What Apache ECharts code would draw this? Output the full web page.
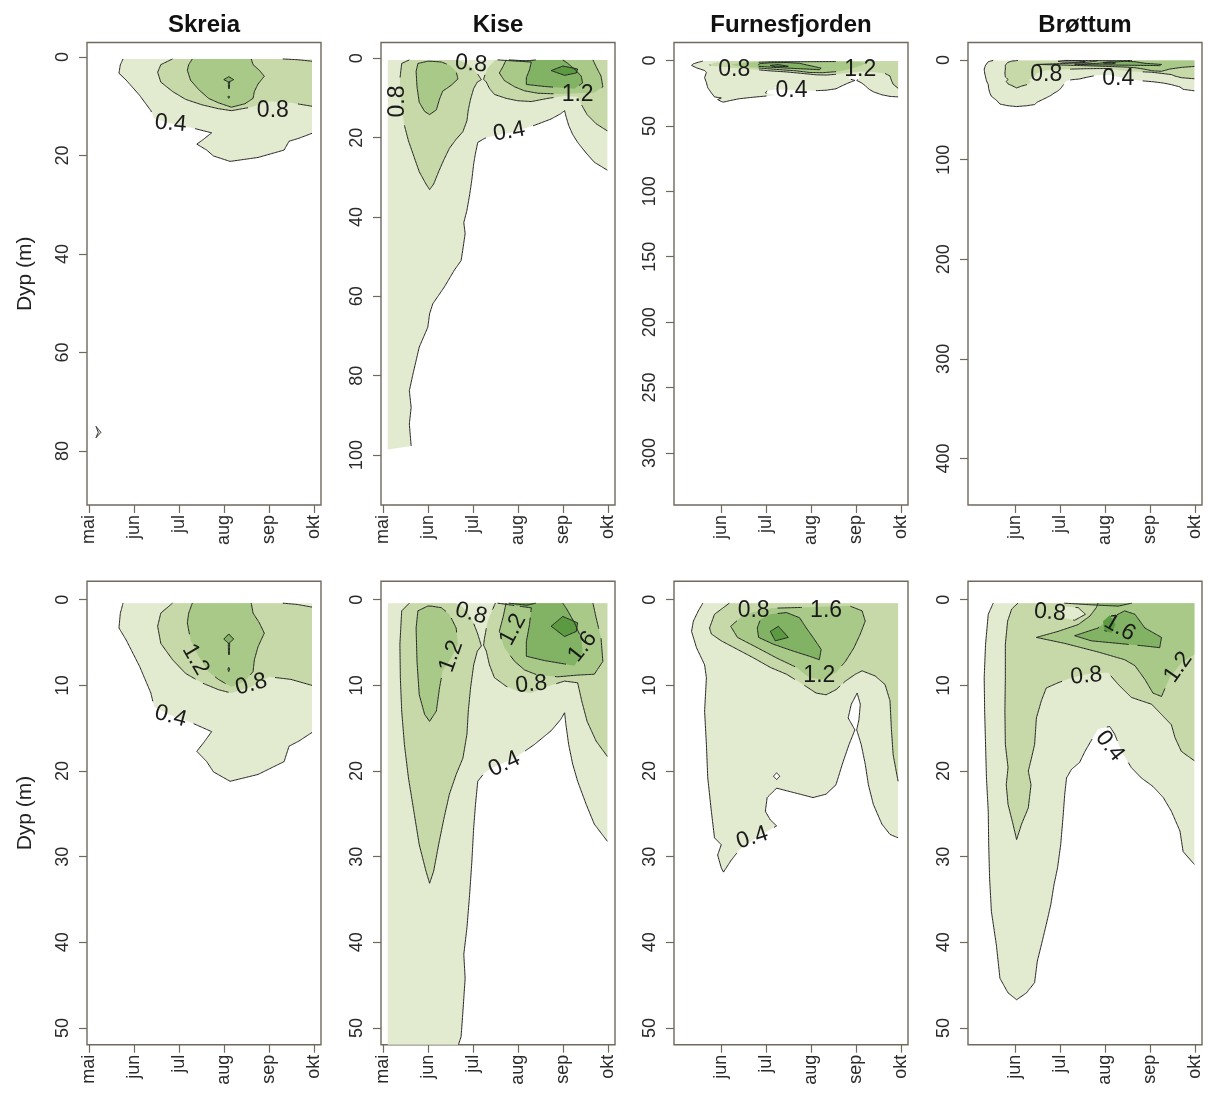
<!DOCTYPE html>
<html><head><meta charset="utf-8">
<script src="https://cdn.jsdelivr.net/npm/echarts@6/dist/echarts.min.js"></script>
<style>html,body{margin:0;padding:0;background:#fff}#c{width:1208px;height:1095px}</style>
</head><body><div id="c"></div>
<script>
// ---------- data ----------
const MONTHS = ['mai','jun','jul','aug','sep','okt'];          // month numbers 5..10
const MONTH_TICKS_FULL = [5,6,7,8,9,10];
const MONTH_TICKS_NOMAI = [6,7,8,9,10];
const LAKES = ['Skreia','Kise','Furnesfjorden','Brøttum'];
const LEVELS = [0, 0.4, 0.8, 1.2, 1.6, 2.0];
const TOP_DEPTH_TICKS = [[0,20,40,60,80],[0,20,40,60,80,100],[0,50,100,150,200,250,300],[0,100,200,300,400]];
const BOTTOM_DEPTH_TICKS = [0,10,20,30,40,50];

// contour regions: [level, [[month, depth(, 1 = point on data edge)], ...]]
const SKREIA = [
  [0.4, [[5.76,0.4,1],[5.70,1.6],[5.67,3.3],[5.83,4.7],[6.13,7.8],[6.38,10.9],[6.45,12.5],[6.78,13.4],[7.30,14.4],[7.73,15.4],[7.55,16.7],[7.40,17.7],[7.62,18.9],[7.77,20.1],[8.14,21.2],[8.76,20.4],[9.34,18.9],[9.45,17.1],[9.67,16.5],[9.96,15.5,1],[9.96,0.4,1]]],
  [0.8, [[6.86,0.4,1],[6.60,1.56],[6.53,3.1],[6.60,5.1],[6.86,7.0],[7.15,8.6],[7.51,9.7],[7.88,10.5],[8.17,10.9],[8.60,10.2],[9.01,9.0],[9.49,9.3],[9.96,10.0,1],[9.96,0.86,1],[9.63,0.55],[9.31,0.4,1]]],
  [1.2, [[7.30,0.4,1],[7.22,1.56],[7.19,2.7],[7.26,4.7],[7.44,6.6],[7.66,8.4],[7.88,9.3],[8.17,10.2],[8.47,9.5],[8.65,8.4],[8.68,7.0],[8.76,5.5],[8.90,3.9],[8.79,2.7],[8.65,1.56],[8.61,0.4,1]]],
  [1.6, [[8.11,4.0],[8.22,4.6],[8.11,5.1],[8.00,4.6]]],
  [1.6, [[8.10,5.1],[8.13,5.1],[8.125,6.4],[8.105,6.4]]],
  [1.6, [[8.11,7.9],[8.13,8.1],[8.11,8.4],[8.09,8.1]]],
  [0.4, [[5.16,75.0],[5.27,76.2],[5.16,77.3],[5.21,76.2]]]
];
const KISE = [
  [0.4, [[5.11,0.4,1],[9.99,0.4,1],[9.99,28.2,1],[9.70,26.2],[9.52,23.9],[9.33,21.2],[9.22,19.2],[9.13,16.9],[9.07,14.6],[9.04,13.2],[8.95,14.0],[8.74,15.3],[8.37,16.9],[7.93,18.5],[7.44,19.6],[7.26,20.2],[7.11,21.2],[7.06,23.9],[7.02,26.6],[6.98,30.5],[6.93,34.4],[6.87,38.3],[6.80,41.4],[6.83,44.2],[6.78,48.1],[6.74,51.0],[6.59,53.4],[6.37,57.6],[6.11,61.9],[6.04,64.4],[6.00,67.8],[5.81,72.8],[5.67,79.6],[5.59,83.8],[5.63,88.0],[5.59,92.2],[5.63,97.7,1],[5.11,98.6,1]]],
  [0.8, [[6.63,0.4,1],[6.74,0.7],[6.89,1.5],[7.00,2.5],[7.11,4.0],[7.19,5.4],[7.10,6.0],[7.02,7.6],[6.95,10.3],[6.90,13.0],[6.87,15.7],[6.78,18.5],[6.63,20.4],[6.48,22.7],[6.36,25.5],[6.24,28.6],[6.13,31.7],[6.04,33.1],[5.96,31.7],[5.81,28.6],[5.69,24.7],[5.57,20.8],[5.48,16.9],[5.42,13.0],[5.39,9.1],[5.38,5.2],[5.42,1.3],[5.59,0.4,1]]],
  [0.8, [[7.50,0.4,1],[7.33,2.5],[7.26,4.5],[7.24,5.3],[7.30,6.0],[7.37,7.6],[7.48,9.1],[7.74,10.1],[8.00,10.7],[8.30,10.9],[8.67,10.1],[9.04,9.5],[9.33,9.7],[9.42,11.8],[9.54,14.2],[9.74,16.5],[9.99,18.3,1],[9.99,0.4,1]]],
  [1.2, [[6.00,0.74],[5.78,1.3],[5.74,3.3],[5.76,7.2],[5.81,11.1],[5.93,13.4],[6.04,14.2],[6.19,13.0],[6.26,10.3],[6.33,8.3],[6.52,6.8],[6.67,5.2],[6.63,3.3],[6.48,1.7],[6.30,0.93],[6.07,0.74]]],
  [1.2, [[7.74,0.4,1],[7.67,2.1],[7.59,3.7],[7.70,5.6],[7.93,7.2],[8.15,8.2],[8.44,8.8],[8.89,9.0],[9.33,8.8],[9.70,8.7],[9.89,7.2],[9.85,4.5],[9.74,2.1],[9.67,0.4,1]]],
  [1.6, [[7.55,0.4,1],[7.95,0.7],[8.30,0.95],[8.26,2.9],[8.19,4.9],[8.19,6.6],[8.59,7.1],[9.04,7.5],[9.26,7.7],[9.44,6.2],[9.41,4.5],[9.26,2.7],[9.10,1.2],[9.00,0.4,1]]],
  [2.0, [[8.74,3.1],[9.00,1.95],[9.33,2.7],[9.30,3.7],[9.04,4.3]]],
  [2.0, [[7.80,0.4,1],[8.40,0.4,1],[8.20,0.65]]]
];
const FURNES = [
  [0.4, [[5.60,0.4,1],[5.50,1.3],[5.39,2.5],[5.35,3.7],[5.46,5.6],[5.64,7.6],[5.68,9.1],[5.64,13.0],[5.68,16.9],[5.71,20.8],[5.79,24.7],[5.86,27.8],[6.01,28.6],[5.93,29.8],[6.01,31.3],[6.06,31.8],[6.22,30.5],[6.41,29.2],[6.73,28.0],[7.24,26.4],[7.10,25.7],[6.99,24.7],[7.03,23.1],[7.24,22.0],[7.61,22.5],[8.05,23.1],[8.34,22.7],[8.56,21.6],[8.70,19.2],[8.85,16.9],[8.98,15.2],[8.83,13.8],[8.90,12.2],[9.03,10.9],[9.10,12.2],[9.07,14.0],[9.02,15.2],[9.12,16.9],[9.21,19.2],[9.28,21.6],[9.39,23.9],[9.58,26.2],[9.76,27.4],[9.94,27.8,1],[9.94,0.4,1]]],
  [0.8, [[6.19,0.4,1],[5.86,1.7],[5.75,3.3],[5.79,4.0],[6.01,4.8],[6.37,5.8],[6.73,6.8],[7.10,7.9],[7.46,8.7],[7.83,9.9],[8.12,10.9],[8.34,11.1],[8.56,10.5],[8.77,9.5],[8.99,8.7],[9.14,8.3],[9.43,8.9],[9.65,9.9],[9.76,11.8],[9.79,15.0],[9.83,18.1],[9.94,21.2,1],[9.94,0.4,1]]],
  [1.2, [[6.52,1.7],[6.22,3.1],[6.37,4.4],[6.81,5.6],[7.24,6.8],[7.68,7.9],[7.97,9.1],[8.26,9.3],[8.56,8.5],[8.77,7.2],[8.96,5.6],[9.10,4.0],[9.21,2.5],[9.14,1.3],[8.85,0.7],[7.80,0.9],[7.10,1.0]]],
  [1.6, [[6.81,3.3],[6.84,4.4],[7.17,5.2],[7.61,6.0],[7.97,6.6],[8.19,7.0],[8.23,5.8],[8.05,4.4],[7.90,3.3],[7.75,2.1],[7.46,1.5],[7.10,1.7],[6.88,2.3]]],
  [2.0, [[7.10,3.7],[7.21,4.8],[7.50,4.4],[7.28,3.1]]],
  [0, [[7.17,20.6],[7.24,20.2],[7.31,20.6],[7.24,21.0]]]
];
const BROTTUM = [
  [0.4, [[5.52,0.4,1],[5.41,1.7],[5.35,5.2],[5.32,9.1],[5.33,13.0],[5.35,16.9],[5.37,20.8],[5.41,24.7],[5.42,28.6],[5.44,32.5],[5.48,36.4],[5.59,40.3],[5.67,44.2],[5.85,45.9],[6.04,46.7],[6.26,45.9],[6.44,44.7],[6.50,42.2],[6.59,40.3],[6.70,37.9],[6.80,35.6],[6.87,33.3],[6.95,31.3],[7.02,28.6],[7.07,25.5],[7.11,22.7],[7.15,20.8],[7.26,19.8],[7.44,19.0],[7.56,17.7],[7.67,16.7],[7.78,15.7],[7.85,15.1],[8.11,14.8],[8.22,15.7],[8.37,17.7],[8.59,19.6],[8.81,20.8],[9.07,21.8],[9.30,23.1],[9.48,24.7],[9.67,27.0],[9.74,29.4],[9.99,30.9,1],[9.99,0.4,1]]],
  [0.8, [[6.07,0.4,1],[5.93,1.1],[5.84,2.5],[5.79,5.2],[5.79,9.1],[5.78,13.0],[5.79,16.9],[5.85,19.6],[5.81,21.6],[5.85,23.9],[5.96,26.2],[6.04,28.0],[6.15,26.2],[6.30,24.3],[6.36,21.6],[6.30,20.0],[6.37,18.5],[6.44,16.9],[6.48,13.8],[6.59,11.8],[6.70,10.3],[6.96,9.7],[7.26,9.1],[7.59,8.7],[8.07,8.5],[8.30,9.9],[8.59,11.4],[8.81,11.8],[9.04,12.2],[9.26,13.4],[9.48,14.6],[9.56,16.1],[9.70,17.7],[9.99,18.8,1],[9.99,0.4,1]]],
  [0.4, [[7.04,0.74],[7.41,0.93],[7.57,1.7],[7.33,2.4],[7.07,2.1],[6.96,1.3]]],
  [1.2, [[6.48,4.4],[6.96,3.7],[7.41,2.9],[7.67,1.9],[7.81,0.93],[7.85,0.4,1],[9.99,0.4,1],[9.99,6.4,1],[9.70,7.4],[9.44,9.1],[9.26,11.3],[9.07,10.9],[8.89,9.3],[8.67,7.7],[8.44,7.0],[7.85,6.1],[7.11,5.1]]],
  [1.6, [[7.33,4.2],[7.85,3.3],[8.15,2.1],[8.44,1.3],[8.67,1.7],[8.89,3.3],[9.26,4.4],[9.22,5.6],[8.89,5.4],[8.30,5.1],[7.70,4.8]]],
  [1.6, [[7.10,0.4,1],[8.60,0.4,1],[8.30,0.75],[7.70,0.6]]],
  [2.0, [[7.96,2.5],[8.11,1.8],[8.24,2.9],[8.15,3.9],[7.99,3.6]]]
];

// contour labels: [text, month, depth, rotation in degrees]
const SKREIA_TOP_LABELS = [['0.4',6.82,13.5,-5],['0.8',9.09,10.8,0]];
const SKREIA_BOT_LABELS = [['1.2',7.37,7.0,-60],['0.8',8.61,9.9,15],['0.4',6.82,13.6,-15]];
const KISE_TOP_LABELS = [['0.8',5.33,10.9,90],['0.8',6.96,1.4,-5],['0.4',7.81,18.5,10],['1.2',9.33,9.2,0]];
const KISE_BOT_LABELS = [['0.8',6.96,1.6,-15],['1.2',6.52,6.6,70],['1.2',7.89,3.5,62],['1.6',9.44,5.5,52],['0.8',8.30,9.9,5],['0.4',7.70,19.2,25]];
const FURNES_TOP_LABELS = [['0.8',6.30,7.1,0],['1.2',9.10,7.1,0],['0.4',7.57,22.9,0]];
const FURNES_BOT_LABELS = [['0.8',6.73,1.3,0],['1.6',8.34,1.3,0],['1.2',8.19,8.9,0],['0.4',6.70,27.8,18]];
const BROTTUM_TOP_LABELS = [['0.8',6.70,15.1,0],['0.4',8.30,18.4,0]];
const BROTTUM_BOT_LABELS = [['0.8',6.78,1.5,-5],['1.6',8.33,3.3,-30],['0.8',7.59,8.9,5],['1.2',9.63,7.9,55],['0.4',8.11,17.1,-52]];

// ---------- styling / layout ----------
const FONT = '"Liberation Sans", Arial, Helvetica, sans-serif';
const AX = '#6f6a5d';
const LINE = '#242424';
const FILL = {0:'#ffffff', 0.4:'#e2ead0', 0.8:'#c7d9a9', 1.2:'#a8c988', 1.6:'#82b364', 2:'#5b9a41'};
const COL_LEFT = [87, 381, 674, 968];
const COL_W = 234;
const ROW_TOP = [42.5, 581.3];
const ROW_H = [462.5, 463.4];
const X_RANGE = [4.96, 10.16];
const TOP_Y_RANGE = [[-2.94, 90.96], [-3.98, 112.6], [-13.8, 339.8], [-17.6, 446.7]];
const BOT_Y_RANGE = [-2.15, 51.95];

const REGIONS = [SKREIA, KISE, FURNES, BROTTUM];
const TOP_LABELS = [SKREIA_TOP_LABELS, KISE_TOP_LABELS, FURNES_TOP_LABELS, BROTTUM_TOP_LABELS];
const BOT_LABELS = [SKREIA_BOT_LABELS, KISE_BOT_LABELS, FURNES_BOT_LABELS, BROTTUM_BOT_LABELS];
const LABEL_SIZE = 23;
const TICK_SIZE = 18;

function labelBoxes(labels, api) {
  return labels.map(l => {
    const c = api.coord([l[1], l[2]]);
    return {x: c[0], y: c[1], t: l[3] * Math.PI / 180, hw: l[0].length * LABEL_SIZE * 0.3 + 3, hh: LABEL_SIZE * 0.4};
  });
}
function inBox(p, boxes) {
  for (const b of boxes) {
    const dx = p[0] - b.x, dy = p[1] - b.y;
    const u = dx * Math.cos(b.t) - dy * Math.sin(b.t);
    const v = dx * Math.sin(b.t) + dy * Math.cos(b.t);
    if (Math.abs(u) < b.hw && Math.abs(v) < b.hh) return true;
  }
  return false;
}

function fillItem(regions) {
  return function (params, api) {
    const r = regions[params.dataIndex];
    const pts = r[1].map(p => api.coord([p[0], p[1]]));
    return {type: 'polygon', silent: true, shape: {points: pts}, style: {fill: FILL[r[0]], stroke: null}};
  };
}

function lineItem(regions, labels) {
  return function (params, api) {
    const r = regions[params.dataIndex][1];
    const n = r.length;
    const pts = r.map(p => api.coord([p[0], p[1]]));
    const edge = r.map(p => p[2] === 1);
    const boxes = labelBoxes(labels, api);
    let start = 0;
    for (let i = 0; i < n; i++) { const pr = (i - 1 + n) % n; if (edge[pr] && edge[i]) { start = i; break; } }
    const runs = [];
    let cur = [];
    const flush = () => { if (cur.length > 1) runs.push(cur); cur = []; };
    for (let k = 1; k <= n; k++) {
      const i = (start + k) % n, pr = (start + k - 1) % n;
      if (edge[pr] && edge[i]) { flush(); continue; }
      const a = pts[pr], b = pts[i];
      const L = Math.hypot(b[0] - a[0], b[1] - a[1]);
      const steps = Math.max(1, Math.ceil(L / 1.5));
      for (let s = 0; s <= steps; s++) {
        const q = [a[0] + (b[0] - a[0]) * s / steps, a[1] + (b[1] - a[1]) * s / steps];
        if (inBox(q, boxes)) { flush(); }
        else {
          const last = cur[cur.length - 1];
          if (!last || last[0] !== q[0] || last[1] !== q[1]) cur.push(q);
        }
      }
    }
    flush();
    return {type: 'group', silent: true, children: runs.map(c => ({type: 'polyline', shape: {points: c}, style: {stroke: LINE, lineWidth: 1, fill: null}}))};
  };
}

function labelItem(labels) {
  return function (params, api) {
    const l = labels[params.dataIndex];
    const p = api.coord([l[1], l[2]]);
    return {type: 'text', silent: true, x: p[0], y: p[1], rotation: l[3] * Math.PI / 180,
      style: {text: l[0], fontSize: LABEL_SIZE, fontFamily: FONT, fill: '#1a1a1a', align: 'center', verticalAlign: 'middle'}};
  };
}

const grids = [], xAxes = [], yAxes = [], series = [], graphics = [];
for (let row = 0; row < 2; row++) {
  for (let col = 0; col < 4; col++) {
    const gi = row * 4 + col;
    grids.push({left: COL_LEFT[col], top: ROW_TOP[row], width: COL_W, height: ROW_H[row],
      show: true, borderColor: AX, borderWidth: 1.4, backgroundColor: 'transparent'});
    const xt = col < 2 ? MONTH_TICKS_FULL : MONTH_TICKS_NOMAI;
    xAxes.push({gridIndex: gi, type: 'value', min: X_RANGE[0], max: X_RANGE[1],
      axisLine: {show: false, onZero: false}, splitLine: {show: false},
      axisTick: {show: true, length: 8, customValues: xt, lineStyle: {color: AX, width: 1.2}},
      axisLabel: {customValues: xt, rotate: 90, margin: 10, fontSize: TICK_SIZE, color: '#2a2a2a', fontFamily: FONT,
        formatter: v => MONTHS[Math.round(v) - 5]}});
    const yt = row === 0 ? TOP_DEPTH_TICKS[col] : BOTTOM_DEPTH_TICKS;
    const yr = row === 0 ? TOP_Y_RANGE[col] : BOT_Y_RANGE;
    yAxes.push({gridIndex: gi, type: 'value', inverse: true, min: yr[0], max: yr[1],
      axisLine: {show: false, onZero: false}, splitLine: {show: false},
      axisTick: {show: true, length: 8, customValues: yt, lineStyle: {color: AX, width: 1.2}},
      axisLabel: {customValues: yt, rotate: 90, margin: 15, fontSize: TICK_SIZE, color: '#2a2a2a', fontFamily: FONT}});
    const regs = REGIONS[col];
    const labs = row === 0 ? TOP_LABELS[col] : BOT_LABELS[col];
    const anchor = regs.map(r => [r[1][0][0], r[1][0][1]]);
    series.push({type: 'custom', xAxisIndex: gi, yAxisIndex: gi, clip: true, z: 2, silent: true,
      renderItem: fillItem(regs), data: anchor, animation: false});
    series.push({type: 'custom', xAxisIndex: gi, yAxisIndex: gi, clip: true, z: 3, silent: true,
      renderItem: lineItem(regs, labs), data: anchor, animation: false});
    series.push({type: 'custom', xAxisIndex: gi, yAxisIndex: gi, clip: true, z: 4, silent: true,
      renderItem: labelItem(labs), data: labs.map(l => [l[1], l[2]]), animation: false});
  }
}
for (let col = 0; col < 4; col++) {
  graphics.push({type: 'text', x: COL_LEFT[col] + COL_W / 2, y: 25,
    style: {text: LAKES[col], fontSize: 24, fontWeight: 'bold', fontFamily: FONT, fill: '#111', align: 'center', verticalAlign: 'middle'}});
}
for (let row = 0; row < 2; row++) {
  graphics.push({type: 'text', x: 25, y: ROW_TOP[row] + ROW_H[row] / 2, rotation: Math.PI / 2,
    style: {text: 'Dyp (m)', fontSize: 21, fontFamily: FONT, fill: '#222', align: 'center', verticalAlign: 'middle'}});
}

const chart = echarts.init(document.getElementById('c'), null, {renderer: 'canvas'});
chart.setOption({animation: false, backgroundColor: '#fff', grid: grids, xAxis: xAxes, yAxis: yAxes, series: series, graphic: graphics});
</script>
</body></html>
